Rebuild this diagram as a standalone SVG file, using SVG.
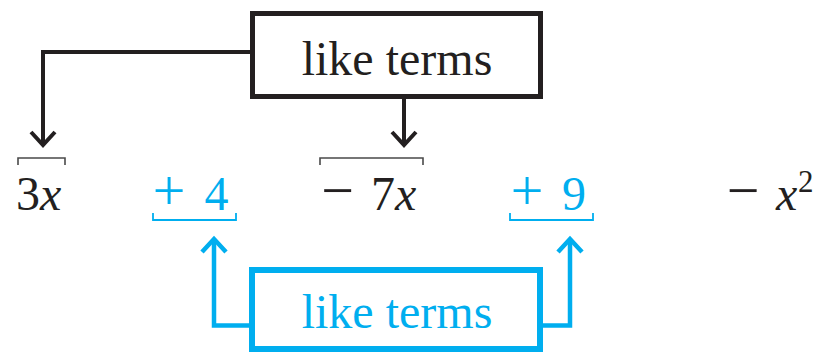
<svg xmlns="http://www.w3.org/2000/svg" width="814" height="352" viewBox="0 0 814 352">
<style>
  .t { font-family: "Liberation Serif", "Times New Roman", serif; font-size: 48px; }
  .op { font-family: "Liberation Serif", "Times New Roman", serif; font-size: 58px; }
  .sup { font-family: "Liberation Serif", "Times New Roman", serif; font-size: 31px; }
  .blk { fill: #231F20; }
  .blu { fill: #00AEEF; }
  .boxk { fill: none; stroke: #231F20; stroke-width: 5; }
  .boxb { fill: none; stroke: #00AEEF; stroke-width: 6; }
  .ck { fill: none; stroke: #231F20; stroke-width: 4; }
  .cb { fill: none; stroke: #00AEEF; stroke-width: 4.5; }
  .barK { fill: none; stroke: #4a4a4a; stroke-width: 1.6; }
  .barB { fill: none; stroke: #00AEEF; stroke-width: 1.8; }
</style>
<defs>
  <marker id="ak" markerUnits="userSpaceOnUse" viewBox="-20 -20 40 40" markerWidth="40" markerHeight="40" refX="0" refY="0" orient="auto" overflow="visible">
    <path d="M-13,-12 L0,0 L-13,12" fill="none" stroke="#231F20" stroke-width="4"/>
  </marker>
  <marker id="ab" markerUnits="userSpaceOnUse" viewBox="-20 -20 40 40" markerWidth="40" markerHeight="40" refX="0" refY="0" orient="auto" overflow="visible">
    <path d="M-13,-12 L0,0 L-13,12" fill="none" stroke="#00AEEF" stroke-width="4.5"/>
  </marker>
</defs>

<g id="connectors">
  <path class="ck" d="M250,52 H43 V145" marker-end="url(#ak)"/>
  <path class="ck" d="M404,99 V145" marker-end="url(#ak)"/>
  <path class="cb" d="M249,325.5 H214 V239" marker-end="url(#ab)"/>
  <path class="cb" d="M543,325.5 H570 V239" marker-end="url(#ab)"/>
</g>

<g id="top-label">
  <rect class="boxk" x="252.5" y="13.5" width="288" height="83"/>
  <text class="t blk" x="397" y="75" text-anchor="middle">like terms</text>
</g>

<g id="bottom-label">
  <rect class="boxb" x="252" y="270" width="288" height="79"/>
  <text class="t blu" x="397" y="328" text-anchor="middle">like terms</text>
</g>

<g id="term-3x">
  <path class="barK" d="M18,165 V158 H65 V165"/>
  <text class="t blk" x="16" y="210">3<tspan font-style="italic">x</tspan></text>
</g>

<g id="term-plus4">
  <text class="op blu" x="169" y="210" text-anchor="middle">+</text>
  <text class="t blu" x="216.5" y="210" text-anchor="middle">4</text>
  <path class="barB" d="M153,213 V220 H236 V213"/>
</g>

<g id="term-minus7x">
  <path class="barK" d="M320,165 V158 H423 V165"/>
  <text class="op blk" x="337.5" y="210" text-anchor="middle">−</text>
  <text class="t blk" x="371" y="210">7<tspan font-style="italic">x</tspan></text>
</g>

<g id="term-plus9">
  <text class="op blu" x="527" y="210" text-anchor="middle">+</text>
  <text class="t blu" x="574" y="210" text-anchor="middle">9</text>
  <path class="barB" d="M510,213 V220 H593 V213"/>
</g>

<g id="term-minusx2">
  <text class="op blk" x="743" y="210" text-anchor="middle">−</text>
  <text class="t blk" x="776" y="210" font-style="italic">x</text>
  <text class="sup blk" x="798" y="192">2</text>
</g>
</svg>
